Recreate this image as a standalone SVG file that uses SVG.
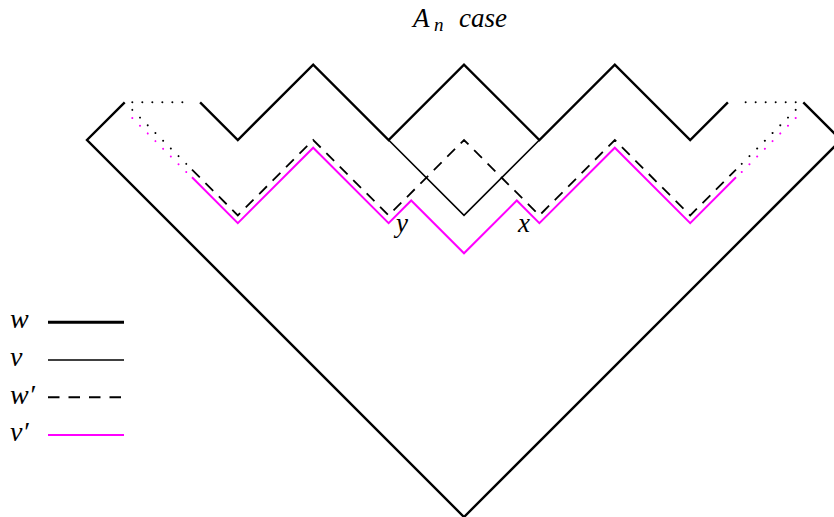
<svg xmlns="http://www.w3.org/2000/svg" width="834" height="517" viewBox="0 0 834 517">
<style>
.lbl{font-family:"Liberation Serif","Times New Roman",serif;font-style:italic;fill:#000}
.w{fill:none;stroke:#000;stroke-width:2.4;stroke-linejoin:miter}
.v{fill:none;stroke:#000;stroke-width:1.6}
.wp{fill:none;stroke:#000;stroke-width:1.8;stroke-dasharray:11 8}
.vp{fill:none;stroke:#ff00ff;stroke-width:2}
.dotk{fill:none;stroke:#000;stroke-width:2;stroke-linecap:round}
.dotm{fill:none;stroke:#ff00ff;stroke-width:2;stroke-linecap:round}
</style>
<rect width="834" height="517" fill="#fff"/>
<g id="title">
<text class="lbl" x="413" y="27" font-size="27">A</text>
<text class="lbl" x="434" y="31" font-size="19">n</text>
<text class="lbl" x="459" y="27" font-size="27">case</text>
</g>
<g id="connectors">
<g id="outer">
<path class="w" d="M124.7,102.3 L87,140 L464,517 L841,140 L803.3,102.3"/>
</g>
<g id="w">
<path class="w" d="M200.1,102.3 L237.8,140 L313.2,64.6 L388.6,140 L464,64.6 L539.4,140 L614.8,64.6 L690.2,140 L727.9,102.3"/>
<path class="dotk" stroke-dasharray="0.01 10" d="M132.3,102.3 H183"/>
<path class="dotk" stroke-dasharray="0.01 10" d="M795.7,102.3 H745"/>
</g>
<g id="v">
<path class="v" d="M388.6,140 L464,215.4 L539.4,140"/>
</g>
<g id="wprime">
<path class="wp" d="M192,169.6 L237.8,215.4 L313.2,140 L388.6,215.4 L464,140 L539.4,215.4 L614.8,140 L690.2,215.4 L736,169.6"/>
<path class="dotk" stroke-dasharray="0.01 10.89" d="M132.3,109.9 L187,164.6"/>
<path class="dotk" stroke-dasharray="0.01 10.89" d="M795.7,109.9 L741,164.6"/>
</g>
<g id="vprime">
<path class="vp" d="M192,177.3 L237.8,223.1 L313.2,147.7 L388.6,223.1 L411.2,200.5 L464,253.3 L516.8,200.5 L539.4,223.1 L614.8,147.7 L690.2,223.1 L736,177.3"/>
<path class="dotm" stroke-dasharray="0.01 10.89" d="M132.3,118 L187,172.7"/>
<path class="dotm" stroke-dasharray="0.01 10.89" d="M795.7,118 L741,172.7"/>
</g>
</g>
<g id="label-y"><text class="lbl" x="396" y="232" font-size="27">y</text></g>
<g id="label-x"><text class="lbl" x="518" y="232" font-size="27">x</text></g>
<g id="legend">
<g id="legend-w">
<text class="lbl" x="10" y="328" font-size="28">w</text>
<line x1="48" y1="322.3" x2="124" y2="322.3" stroke="#000" stroke-width="3"/>
</g>
<g id="legend-v">
<text class="lbl" x="10" y="366" font-size="28">v</text>
<line x1="48" y1="360" x2="124" y2="360" stroke="#000" stroke-width="1.7"/>
</g>
<g id="legend-wprime">
<text class="lbl" x="10" y="404" font-size="28">w′</text>
<line x1="48" y1="397.3" x2="124" y2="397.3" stroke="#000" stroke-width="2" stroke-dasharray="11.5 9"/>
</g>
<g id="legend-vprime">
<text class="lbl" x="10" y="441" font-size="28">v′</text>
<line x1="48" y1="435" x2="124" y2="435" stroke="#ff00ff" stroke-width="1.8"/>
</g>
</g>
</svg>
